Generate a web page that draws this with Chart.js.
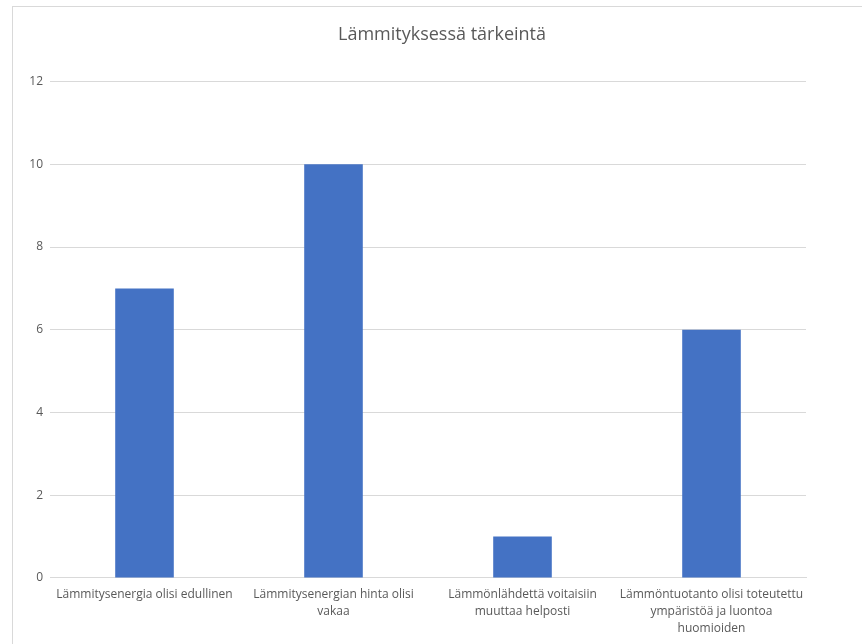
<!DOCTYPE html>
<html>
<head>
<meta charset="utf-8">
<script src="https://cdn.jsdelivr.net/npm/chart.js@4/dist/chart.umd.min.js"></script>
<style>
  html, body { margin: 0; padding: 0; background: #fff; }
  .frame {
    position: absolute; left: 12px; top: 6px; width: 860px; height: 660px;
    border: 1px solid #d9d9d9; box-sizing: border-box;
  }
  .chartBox { position: absolute; left: 0; top: 0; width: 862px; height: 644px; }
</style>
</head>
<body>
<div class="frame"></div>
<div class="chartBox"><canvas id="barChart"></canvas></div>
<script>
const chartTitle = 'Lämmityksessä tärkeintä';
const categories = [
    'Lämmitysenergia olisi edullinen',
    ['Lämmitysenergian hinta olisi', 'vakaa'],
    ['Lämmönlähdettä voitaisiin', 'muuttaa helposti'],
    ['Lämmöntuotanto olisi toteutettu', 'ympäristöä ja luontoa', 'huomioiden'],
];
const counts = [7, 10, 1, 6];
const yTicks = [0, 2, 4, 6, 8, 10, 12];

const textColor = '#595959';
const fontFamily = "'Open Sans', 'Noto Sans', sans-serif";

new Chart(document.getElementById('barChart').getContext('2d'), {
    type: 'bar',
    data: {
        labels: categories,
        datasets: [{
            label: chartTitle,
            data: counts,
            backgroundColor: '#4472C4',
            categoryPercentage: 1,
            barPercentage: 0.31,
        }],
    },
    options: {
        responsive: true,
        maintainAspectRatio: false,
        animation: false,
        layout: { padding: { left: 22, right: 0, top: 16, bottom: 7 } },
        scales: {
            x: {
                grid: { display: false },
                border: { color: '#d9d9d9' },
                ticks: {
                    color: textColor,
                    font: { family: fontFamily, size: 12, lineHeight: 1.42 },
                    maxRotation: 0,
                    autoSkip: false,
                    padding: 0,
                },
            },
            y: {
                min: 0,
                max: 12,
                afterBuildTicks: axis => { axis.ticks = yTicks.map(v => ({ value: v })); },
                afterFit: axis => { axis.width = 28; },
                grid: { color: '#d9d9d9', drawTicks: false },
                border: { display: false },
                ticks: {
                    color: textColor,
                    font: { family: fontFamily, size: 12 },
                    padding: 7,
                },
            },
            // empty right-hand strip so the plot ends before the frame edge
            spacer: {
                type: 'linear',
                position: 'right',
                display: true,
                afterFit: axis => { axis.width = 56; },
                grid: { display: false },
                border: { display: false },
                ticks: { display: false },
            },
        },
        plugins: {
            legend: { display: false },
            tooltip: { enabled: false },
            title: {
                display: true,
                text: chartTitle,
                color: textColor,
                font: { family: fontFamily, size: 18, weight: 'normal' },
                padding: { top: 8, bottom: 36 },
            },
        },
    },
});
</script>
</body>
</html>
